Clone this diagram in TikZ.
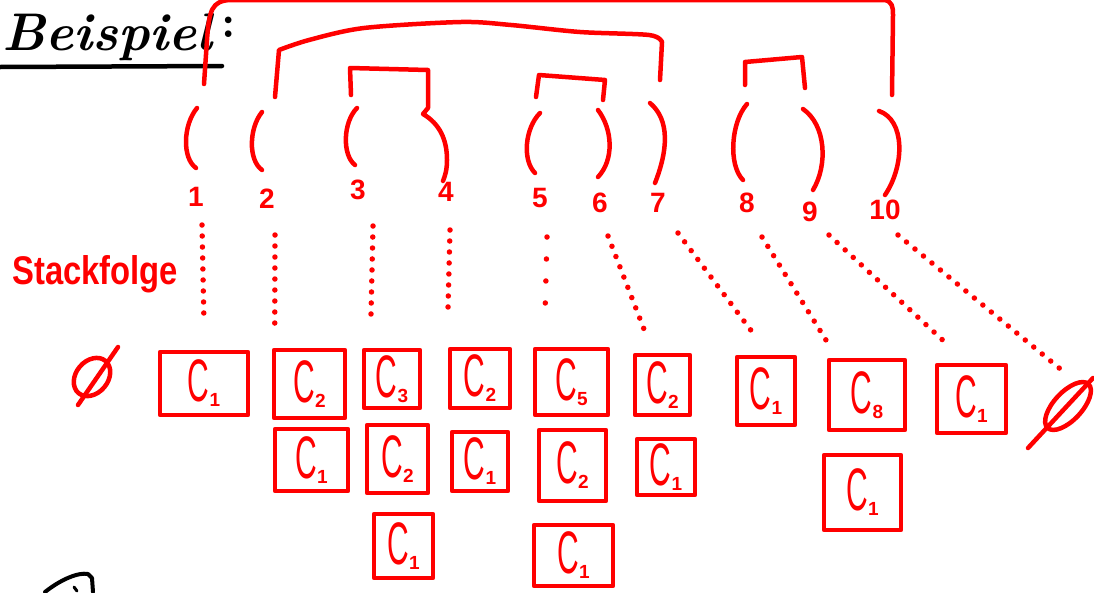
\documentclass[tikz,border=0pt]{standalone}
\usepackage{fontspec}
\newfontfamily\hand{Liberation Sans}
\definecolor{pen}{RGB}{255,0,0}
\tikzset{
  stroke/.style={draw=pen, line width=4.5pt, line cap=round, line join=round},
  cbox/.style={stroke, inner sep=0pt, text=pen},
  num/.style={text=pen, font=\hand\bfseries\fontsize{28}{28}\selectfont, inner sep=0pt},
  dotl/.style={draw=pen, line width=5.5pt, line cap=round, dash pattern=on 0pt off 11pt},
  ink/.style={draw=black, line width=4.5pt, line cap=round, line join=round},
}
\newcommand\Cs[1]{{\hand\scalebox{0.5}[1]{\fontsize{60}{60}\selectfont C}\raisebox{-5pt}{\bfseries\fontsize{19}{19}\selectfont #1}}}
\begin{document}
\begin{tikzpicture}[x=1pt,y=-1pt]
\useasboundingbox (0,0) rectangle (1094,592);
% title
\node[anchor=base west, inner sep=0pt, font=\bfseries\itshape\fontsize{53}{53}\selectfont] (title) at (2,50) {Beispiel};
\node[inner sep=0pt, font=\bfseries\fontsize{46}{46}\selectfont] (colon) at (229,27) {:};
\draw[ink] (0,67) -- (222,66);
\draw[ink, line width=4pt] (45,592) .. controls (60,580) and (78,572) .. (88,574) -- (92,578) -- (93,592);
\draw[ink, line width=3pt] (74,587) -- (77,591);
% label
\node[anchor=base west, inner sep=0pt, text=pen, font=\hand\bfseries\fontsize{40}{40}\selectfont] (lab) at (12,284) {\scalebox{0.82}[1]{Stackfolge}};
% brackets above
\draw[stroke] (204,84) -- (207,40) .. controls (209,10) and (212,1) .. (230,0) -- (885,0) .. controls (892,2) and (893,6) .. (893,15) -- (892,95);
\draw[stroke] (275,97) -- (279,50) -- plot[smooth, tension=0.5] coordinates {(279,50) (309,40) (364,28) (461,22) (511,25) (580,32) (649,35) (662,42)} -- (660,80);
\draw[stroke] (351,95) -- (350,68) -- (428,70) -- (428,108) -- (423,114) .. controls (440,124) and (447,140) .. (447,160) .. controls (447,170) and (445,176) .. (443,181);
\draw[stroke] (536,97) -- (539,75) -- (605,80) -- (603,100);
\draw[stroke] (745,85) -- (745,62) -- (802,57) -- (805,88);
% parentheses
\draw[stroke] (197,108) .. controls (183,125) and (182,158) .. (196,168);
\draw[stroke] (262,112) .. controls (249,128) and (248,160) .. (262,170);
\draw[stroke] (357,108) .. controls (343,122) and (342,155) .. (355,165);
\draw[stroke] (540,113) .. controls (525,128) and (522,160) .. (535,173);
\draw[stroke] (598,110) .. controls (613,130) and (614,160) .. (598,177);
\draw[stroke] (650,103) .. controls (670,120) and (668,150) .. (655,183);
\draw[stroke] (747,104) .. controls (731,122) and (728,165) .. (743,180);
\draw[stroke] (803,109) .. controls (826,125) and (828,165) .. (813,190);
\draw[stroke] (879,111) .. controls (905,120) and (905,165) .. (885,195);
% numbers
\node[num] (n1) at (196,197) {1};
\node[num] (n2) at (267,199) {2};
\node[num] (n3) at (358,190) {3};
\node[num] (n4) at (446,192) {4};
\node[num] (n5) at (540,198) {5};
\node[num] (n6) at (600,203) {6};
\node[num] (n7) at (658,203) {7};
\node[num] (n8) at (747,203) {8};
\node[num] (n9) at (810,212) {9};
\node[num] (n10) at (885,210) {10};
% empty sets
\coordinate (e1) at (92,377);
\coordinate (e2) at (1068,406);
\draw[stroke, rotate around={50:(e1)}] (e1) ellipse (21 and 16);
\draw[stroke] ([xshift=-14pt,yshift=-28pt]e1) -- ([xshift=26pt,yshift=30pt]e1);
\draw[stroke, rotate around={47:(e2)}] (e2) ellipse (30 and 14);
\draw[stroke] ([xshift=-40pt,yshift=-42pt]e2) -- ([xshift=25pt,yshift=28pt]e2);
% stacks
\node[cbox, minimum width=88pt, minimum height=63pt] (s1a) at (204,383.5) {\Cs{1}};
\node[cbox, minimum width=71pt, minimum height=68pt] (s2a) at (309.5,384) {\Cs{2}};
\node[cbox, minimum width=73pt, minimum height=62pt] (s2b) at (311.5,460) {\Cs{1}};
\node[cbox, minimum width=56pt, minimum height=58pt] (s3a) at (392,379) {\Cs{3}};
\node[cbox, minimum width=61pt, minimum height=68pt] (s3b) at (397.5,459) {\Cs{2}};
\node[cbox, minimum width=59pt, minimum height=64pt] (s3c) at (403.5,546) {\Cs{1}};
\node[cbox, minimum width=60pt, minimum height=59pt] (s4a) at (480,378.5) {\Cs{2}};
\node[cbox, minimum width=56pt, minimum height=59pt] (s4b) at (480,461.5) {\Cs{1}};
\node[cbox, minimum width=73pt, minimum height=66pt] (s5a) at (571.5,382) {\Cs{5}};
\node[cbox, minimum width=67pt, minimum height=71pt] (s5b) at (572.5,465.5) {\Cs{2}};
\node[cbox, minimum width=79pt, minimum height=61pt] (s5c) at (573.5,555.5) {\Cs{1}};
\node[cbox, minimum width=55pt, minimum height=60pt] (s6a) at (662.5,385) {\Cs{2}};
\node[cbox, minimum width=58pt, minimum height=56pt] (s6b) at (666,467) {\Cs{1}};
\node[cbox, minimum width=58pt, minimum height=68pt] (s7a) at (766,391) {\Cs{1}};
\node[cbox, minimum width=76pt, minimum height=70pt] (s8a) at (867,395) {\Cs{8}};
\node[cbox, minimum width=77pt, minimum height=75pt] (s8b) at (862.5,492.5) {\Cs{1}};
\node[cbox, minimum width=69pt, minimum height=68pt] (s9a) at (971.5,399) {\Cs{1}};
% dotted connectors
\draw[dotl] ([xshift=6pt,yshift=-28pt]n1.center) -- ([yshift=26pt]s1a.north);
\draw[dotl] ([xshift=8pt,yshift=-36pt]n2.center) -- ([xshift=3pt,yshift=23pt]s2a.north west);
\draw[dotl] ([xshift=15pt,yshift=-36pt]n3.center) -- ([xshift=9pt,yshift=23pt]s3a.north west);
\draw[dotl] ([xshift=4pt,yshift=-38pt]n4.center) -- ([yshift=29pt]s4a.north west);
\draw[dotl, dash pattern=on 0pt off 22pt] ([xshift=7pt,yshift=-39pt]n5.center) -- ([xshift=12pt,yshift=22pt]s5a.north west);
\draw[dotl] ([xshift=8pt,yshift=-33pt]n6.center) -- ([xshift=13pt,yshift=19pt]s6a.north west);
\draw[dotl] ([xshift=20pt,yshift=-30pt]n7.center) -- ([xshift=18pt,yshift=22pt]s7a.north west);
\draw[dotl] ([xshift=15pt,yshift=-34pt]n8.center) -- ([xshift=4pt,yshift=10pt]s8a.north west);
\draw[dotl] ([xshift=19pt,yshift=-23pt]n9.center) -- ([xshift=13pt,yshift=18pt]s9a.north west);
\draw[dotl] ([xshift=13pt,yshift=-25pt]n10.center) -- ([xshift=-4pt,yshift=34pt]e2);
\end{tikzpicture}
\end{document}
